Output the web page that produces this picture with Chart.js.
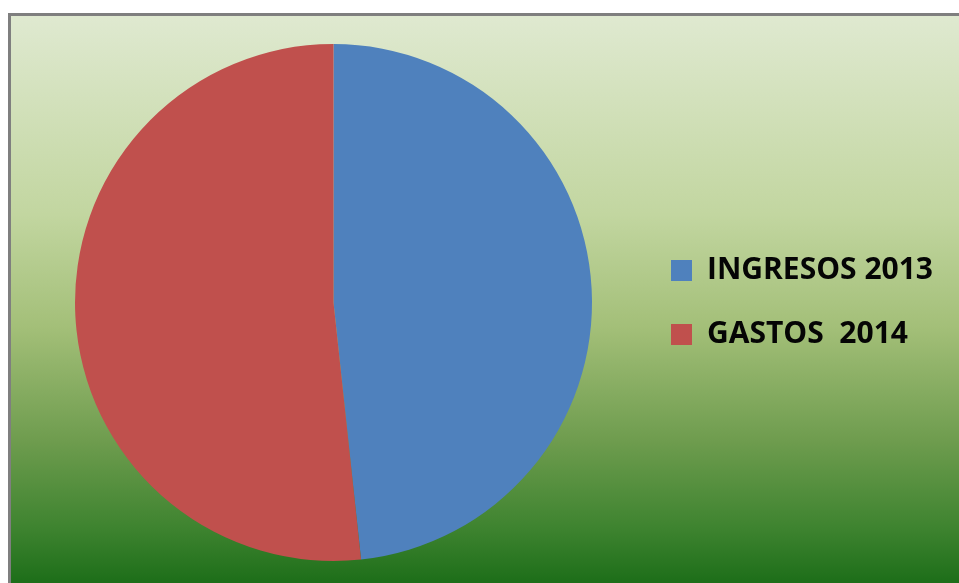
<!DOCTYPE html>
<html>
<head>
<meta charset="utf-8">
<script src="https://cdn.jsdelivr.net/npm/chart.js@4.4.0/dist/chart.umd.min.js"></script>
<style>
    html, body { margin: 0; padding: 0; background: #ffffff; overflow: hidden; }
    .frame {
        position: absolute;
        left: 8px;
        top: 13px;
        width: 951px;
        height: 570px;
        border-left: 3px solid #7f7f7f;
        border-top: 3px solid #7f7f7f;
    }
    .frame canvas { display: block; }
</style>
</head>
<body>
<div class="frame">
    <canvas id="pieChart" width="948" height="567"></canvas>
</div>
<script>
// Chart data
const labels = ['INGRESOS 2013', 'GASTOS  2014'];
const values = [48.3, 51.7];
const colors = ['#4f81bd', '#c0504d'];

// Green gradient behind the pie
const backgroundPlugin = {
    id: 'greenBackground',
    beforeDraw: (chart) => {
        const { ctx, width, height } = chart;
        const grad = ctx.createLinearGradient(0, 0, 0, height);
        grad.addColorStop(0, '#dfe9d0');
        grad.addColorStop(0.35, '#c2d6a0');
        grad.addColorStop(0.55, '#a3bf78');
        grad.addColorStop(0.75, '#6e9c4e');
        grad.addColorStop(0.9, '#3f8430');
        grad.addColorStop(1, '#1d6e19');
        ctx.save();
        ctx.fillStyle = grad;
        ctx.fillRect(0, 0, width, height);
        ctx.restore();
    }
};

const initPieChart = () => {
    const ctx = document.getElementById('pieChart').getContext('2d');
    const data = {
        labels,
        datasets: [{
            data: values,
            backgroundColor: colors,
            borderWidth: 0
        }]
    };

    const options = {
        responsive: false,
        animation: false,
        layout: {
            padding: { top: 28, bottom: 22, left: 19, right: 16 }
        },
        plugins: {
            legend: {
                position: 'right',
                labels: {
                    color: '#050505',
                    boxWidth: 21,
                    boxHeight: 21,
                    padding: 34,
                    font: { family: 'Open Sans', size: 30, weight: 'bold' }
                }
            },
            tooltip: { enabled: false }
        }
    };

    new Chart(ctx, {
        type: 'pie',
        data,
        options,
        plugins: [backgroundPlugin]
    });
};

document.addEventListener('DOMContentLoaded', initPieChart);
</script>
</body>
</html>
